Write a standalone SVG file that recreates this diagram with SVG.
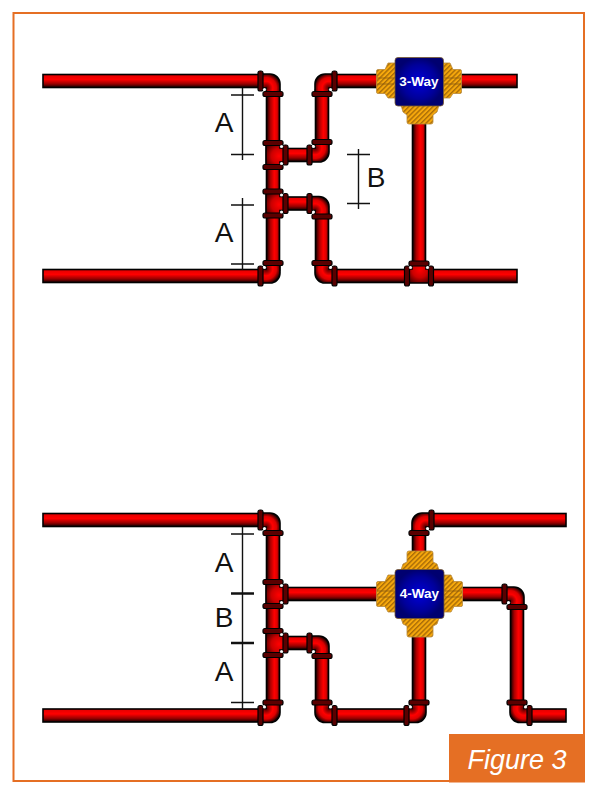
<svg xmlns="http://www.w3.org/2000/svg" xmlns:xlink="http://www.w3.org/1999/xlink" width="600" height="800" viewBox="0 0 600 800">
<style>
.ph{fill:url(#gh);stroke:#000;stroke-width:1.6}
.pv{fill:url(#gv);stroke:#000;stroke-width:1.6}
.fl{fill:#5a0000;stroke:#000;stroke-width:1.2}
.dot{fill:#fff;opacity:.9}
.gold{fill:url(#hatch);stroke:#b98a3c;stroke-width:.8;stroke-linejoin:round}
.blue{fill:url(#gb);stroke:#7a5a30;stroke-width:.8}
.vt{font:bold 13.500px "Liberation Sans",Arial,sans-serif;fill:#fff;text-anchor:middle}
.dim{stroke:#111;stroke-width:1.4;fill:none}
.dimb{stroke:#111;stroke-width:2.400;fill:none}
.lab{font:28px "Liberation Sans",Arial,sans-serif;fill:#111;text-anchor:middle}
</style>
<defs>
<linearGradient id="gh" x1="0" y1="0" x2="0" y2="1"><stop offset="0" stop-color="#e00000"/><stop offset=".38" stop-color="#f00"/><stop offset=".72" stop-color="#900"/><stop offset="1" stop-color="#100"/></linearGradient>
<linearGradient id="gv" x1="0" y1="0" x2="1" y2="0"><stop offset="0" stop-color="#100"/><stop offset=".3" stop-color="#a00"/><stop offset=".6" stop-color="#f00"/><stop offset=".82" stop-color="#d00"/><stop offset="1" stop-color="#500"/></linearGradient>
<radialGradient id="ge" gradientUnits="userSpaceOnUse" cx="-7" cy="7" r="15"><stop offset="0" stop-color="#400"/><stop offset=".45" stop-color="#f00"/><stop offset=".7" stop-color="#d00"/><stop offset="1" stop-color="#100"/></radialGradient>
<radialGradient id="gt" gradientUnits="userSpaceOnUse" cx="6" cy="1" r="17"><stop offset="0" stop-color="#f00"/><stop offset=".45" stop-color="#c00"/><stop offset="1" stop-color="#200"/></radialGradient>
<radialGradient id="gb"><stop offset="0" stop-color="#0000d8"/><stop offset=".7" stop-color="#00009a"/><stop offset="1" stop-color="#000070"/></radialGradient>
<pattern id="hatch" width="3.400" height="3.400" patternUnits="userSpaceOnUse" patternTransform="rotate(45)"><rect width="3.400" height="3.400" fill="#f6a80c"/><rect width="1.400" height="3.400" fill="#a86c08"/></pattern>
<g id="elbow">
<path d="M-12 -7H-3A10 10 0 0 1 7 3V12H-7V7H-12Z" fill="url(#ge)" stroke="#000" stroke-width="1.600"/>
<rect class="fl" x="-15" y="-10" width="5" height="20" rx="2"/>
<rect class="fl" x="-10" y="10.500" width="20" height="5" rx="2"/>
<circle class="dot" cx="-8.500" cy="8.500" r="1.600"/>
</g>
<g id="tee">
<path d="M-7 -11H7V-7H12V7H7V11H-7Z" fill="url(#gt)" stroke="#000" stroke-width="1.600"/>
<rect class="fl" x="-10" y="-14.500" width="20" height="5" rx="2"/>
<rect class="fl" x="-10" y="9.500" width="20" height="5" rx="2"/>
<rect class="fl" x="10" y="-10" width="5" height="20" rx="2"/>
<circle class="dot" cx="8.500" cy="-8.500" r="1.600"/>
<circle class="dot" cx="8.500" cy="8.500" r="1.600"/>
</g>
</defs>
<rect width="600" height="800" fill="#fff"/>
<rect id="frame" x="13.500" y="13" width="570.500" height="768" fill="none" stroke="#e56f24" stroke-width="2"/>

<g id="connectors">
<rect class="ph" x="43" y="74.500" width="220" height="13"/>
<rect class="ph" x="334" y="74.500" width="44" height="13"/>
<rect class="ph" x="450" y="74.500" width="67" height="13"/>
<rect class="pv" x="266.500" y="90" width="13" height="180"/>
<rect class="pv" x="315.500" y="90" width="13" height="55"/>
<rect class="ph" x="283" y="148.500" width="28" height="13"/>
<rect class="ph" x="283" y="197" width="28" height="13"/>
<rect class="pv" x="315.500" y="212" width="13" height="55"/>
<rect class="pv" x="412.500" y="120" width="13" height="146"/>
<rect class="ph" x="43" y="269.500" width="220" height="13"/>
<rect class="ph" x="332" y="269.500" width="76" height="13"/>
<rect class="ph" x="430" y="269.500" width="87" height="13"/>
<rect class="ph" x="43" y="513.500" width="220" height="13"/>
<rect class="ph" x="430" y="513.500" width="136" height="13"/>
<rect class="pv" x="266.500" y="530" width="13" height="175"/>
<rect class="pv" x="412.500" y="530" width="13" height="24"/>
<rect class="ph" x="283" y="587.500" width="95" height="13"/>
<rect class="ph" x="460" y="587.500" width="46" height="13"/>
<rect class="pv" x="510.500" y="604" width="13" height="100"/>
<rect class="ph" x="283" y="636.500" width="28" height="13"/>
<rect class="pv" x="315.500" y="652" width="13" height="52"/>
<rect class="pv" x="412.500" y="630" width="13" height="75"/>
<rect class="ph" x="43" y="709" width="220" height="13"/>
<rect class="ph" x="332" y="709" width="76" height="13"/>
<rect class="ph" x="528" y="709" width="38" height="13"/>
</g>

<g id="fittings-top">
<use xlink:href="#elbow" href="#elbow" transform="translate(273 81)"/>
<use xlink:href="#elbow" href="#elbow" transform="translate(322 81) scale(-1 1)"/>
<use xlink:href="#elbow" href="#elbow" transform="translate(322 155) scale(1 -1)"/>
<use xlink:href="#elbow" href="#elbow" transform="translate(322 203.500)"/>
<use xlink:href="#elbow" href="#elbow" transform="translate(273 276) scale(1 -1)"/>
<use xlink:href="#elbow" href="#elbow" transform="translate(322 276) scale(-1 -1)"/>
<use xlink:href="#tee" href="#tee" transform="translate(273 155)"/>
<use xlink:href="#tee" href="#tee" transform="translate(273 203.500)"/>
<use xlink:href="#tee" href="#tee" transform="translate(419 276) rotate(-90)"/>
</g>
<g id="fittings-bottom">
<use xlink:href="#elbow" href="#elbow" transform="translate(273 520)"/>
<use xlink:href="#elbow" href="#elbow" transform="translate(419 520) scale(-1 1)"/>
<use xlink:href="#elbow" href="#elbow" transform="translate(322 643)"/>
<use xlink:href="#elbow" href="#elbow" transform="translate(517 594)"/>
<use xlink:href="#elbow" href="#elbow" transform="translate(273 715.500) scale(1 -1)"/>
<use xlink:href="#elbow" href="#elbow" transform="translate(322 715.500) scale(-1 -1)"/>
<use xlink:href="#elbow" href="#elbow" transform="translate(419 715.500) scale(1 -1)"/>
<use xlink:href="#elbow" href="#elbow" transform="translate(517 715.500) scale(-1 -1)"/>
<use xlink:href="#tee" href="#tee" transform="translate(273 594)"/>
<use xlink:href="#tee" href="#tee" transform="translate(273 643)"/>
</g>

<g id="valve-3way">
<path class="gold" d="M396 63L388 63L385 69.500H378Q376.500 69.500 376.500 71V92Q376.500 93.500 378 93.500H385L388 98H396Z"/>
<path class="gold" d="M442 63L450 63L453 69.500H460Q461.500 69.500 461.500 71V92Q461.500 93.500 460 93.500H453L450 98H442Z"/>
<path class="gold" d="M401 105L403 112L407 115V122Q407 124 409 124H431Q433 124 433 122V115L437 112L439 105Z"/>
<path d="M377 78H394M377 84H394M444 78H461M444 84H461" stroke="#8a5a10" stroke-width=".8"/>
<rect class="blue" x="395" y="57.500" width="48.500" height="48.500" rx="3"/>
<text class="vt" x="419" y="85.500">3-Way</text>
</g>

<g id="valve-4way">
<path class="gold" d="M396 575L388 575L385 581.500H378Q376.500 581.500 376.500 583V605Q376.500 606.500 378 606.500H385L388 612H396Z"/>
<path class="gold" d="M443 575L451 575L454 581.500H461Q462.500 581.500 462.500 583V605Q462.500 606.500 461 606.500H454L451 612H443Z"/>
<path class="gold" d="M401 570L403 564L407 562V553Q407 551 409 551H431Q433 551 433 553V562L437 564L439 570Z"/>
<path class="gold" d="M401 618L403 624L407 626V635Q407 637 409 637H431Q433 637 433 635V626L437 624L439 618Z"/>
<path d="M377 591H394M377 597H394M445 591H462M445 597H462" stroke="#8a5a10" stroke-width=".8"/>
<rect class="blue" x="395" y="569.500" width="49" height="49" rx="3"/>
<text class="vt" x="419.500" y="598">4-Way</text>
</g>

<g id="dimensions">
<path class="dim" d="M242.500 88V160M231 95H254M231 154.500H254M242.500 198V270M231 205H254M231 264H254"/>
<path class="dim" d="M358.500 149V209M347 154.500H370M347 203.500H370"/>
<path class="dim" d="M242.500 527V710M231 534H254M231 702.500H254"/>
<path class="dimb" d="M231 593.500H254M231 643H254"/>
<text class="lab" x="224" y="132">A</text>
<text class="lab" x="224" y="242">A</text>
<text class="lab" x="376" y="187">B</text>
<text class="lab" x="224" y="572">A</text>
<text class="lab" x="224" y="627">B</text>
<text class="lab" x="224" y="681">A</text>
</g>

<g id="badge">
<rect x="449" y="734" width="136" height="48.500" fill="#e56f24"/>
<text x="517" y="769" text-anchor="middle" font-family="'Liberation Sans',sans-serif" font-style="italic" font-size="27" fill="#fff">Figure 3</text>
</g>
</svg>
